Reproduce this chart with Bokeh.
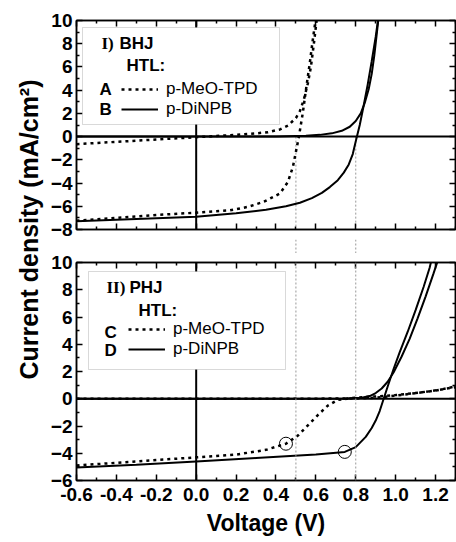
import numpy as np
from bokeh.plotting import figure
from bokeh.models import (FixedTicker, LinearAxis, Span, Label, BoxAnnotation,
                          Legend, LegendItem, Range1d, PrintfTickFormatter,
                          CustomJSTickFormatter)
from bokeh.layouts import column, row
from bokeh.embed import file_html
from bokeh.resources import INLINE

# ---------------- data ----------------
x_major = [-0.6, -0.4, -0.2, 0.0, 0.2, 0.4, 0.6, 0.8, 1.0, 1.2]
x_minor = [-0.5, -0.3, -0.1, 0.1, 0.3, 0.5, 0.7, 0.9, 1.1, 1.3]
y1_major = [-8, -6, -4, -2, 0, 2, 4, 6, 8, 10]
y1_minor = [-7, -5, -3, -1, 1, 3, 5, 7, 9]
y2_major = [-6, -4, -2, 0, 2, 4, 6, 8, 10]
y2_minor = [-5, -3, -1, 1, 3, 5, 7, 9]
voc_marks = [0.5, 0.8]

# Panel I (BHJ)
A_dark_V = [-0.6, -0.4, -0.2, 0.0, 0.1, 0.2, 0.3, 0.36, 0.42, 0.46, 0.5, 0.52, 0.54, 0.56, 0.575, 0.59, 0.605]
A_dark_J = [-0.65, -0.45, -0.25, -0.05, 0.05, 0.15, 0.28, 0.38, 0.62, 0.95, 1.6, 2.2, 3.2, 4.6, 6.0, 8.0, 10.2]
A_light_V = [-0.6, -0.4, -0.2, 0.0, 0.17, 0.26, 0.34, 0.42, 0.46, 0.485, 0.5, 0.515, 0.535, 0.55, 0.57, 0.585, 0.6]
A_light_J = [-7.25, -7.0, -6.75, -6.55, -6.35, -6.05, -5.6, -4.9, -3.9, -2.6, -1.3, 0.0, 2.1, 4.0, 6.4, 8.4, 10.2]
B_dark_V = [-0.6, 0.0, 0.4, 0.55, 0.62, 0.68, 0.73, 0.77, 0.8, 0.825, 0.845, 0.865, 0.88, 0.893, 0.905, 0.914]
B_dark_J = [0.0, 0.0, 0.02, 0.08, 0.15, 0.28, 0.5, 0.85, 1.35, 2.0, 2.9, 4.1, 5.4, 7.0, 8.8, 10.2]
B_light_V = [-0.6, -0.3, 0.0, 0.2, 0.35, 0.45, 0.52, 0.58, 0.63, 0.67, 0.71, 0.74, 0.765, 0.785, 0.8, 0.82, 0.84, 0.86, 0.88, 0.9, 0.912]
B_light_J = [-7.3, -7.1, -6.9, -6.6, -6.3, -6.0, -5.7, -5.3, -4.85, -4.35, -3.75, -3.1, -2.4, -1.5, -0.4, 1.0, 2.7, 4.5, 6.5, 8.6, 10.1]

# Panel II (PHJ)
C_dark_V = [-0.6, 0.0, 0.5, 0.8, 0.88, 0.95, 1.05, 1.15, 1.3]
C_dark_J = [0.0, 0.0, 0.0, 0.02, 0.06, 0.15, 0.32, 0.5, 0.85]
C_light_V = [-0.6, -0.3, 0.0, 0.2, 0.35, 0.45, 0.51, 0.56, 0.61, 0.66, 0.71, 0.8, 0.9, 1.0, 1.1, 1.2, 1.3]
C_light_J = [-4.9, -4.6, -4.3, -4.1, -3.75, -3.3, -2.7, -1.95, -1.2, -0.5, -0.08, 0.08, 0.17, 0.27, 0.42, 0.6, 0.9]
D_dark_V = [-0.6, 0.0, 0.5, 0.75, 0.83, 0.87, 0.9, 0.93, 0.96, 0.99, 1.03, 1.07, 1.11, 1.15, 1.19, 1.215]
D_dark_J = [0.0, 0.0, 0.0, 0.02, 0.08, 0.2, 0.42, 0.75, 1.25, 1.95, 3.1, 4.4, 5.9, 7.5, 9.2, 10.3]
D_light_V = [-0.6, -0.3, 0.0, 0.3, 0.6, 0.745, 0.8, 0.85, 0.88, 0.9, 0.92, 0.94, 0.96, 0.99, 1.02, 1.06, 1.1, 1.14, 1.17, 1.18]
D_light_J = [-5.05, -4.85, -4.6, -4.35, -4.1, -3.9, -3.55, -2.8, -2.15, -1.6, -0.9, 0.0, 0.9, 2.2, 3.4, 4.9, 6.5, 8.2, 9.6, 10.2]
mpp_V = [0.45, 0.745]
mpp_J = [-3.3, -3.9]

FONT = "Liberation Sans"
TICK_FS = "19px"
DOT = "3 4"
FIG_W = 412
LEFT_B = 32
RIGHT_B = 1


def style_axis(ax, ticker, labels=True, formatter=None):
    ax.ticker = ticker
    if formatter is not None:
        ax.formatter = formatter
    ax.axis_line_width = 1.5
    ax.axis_line_color = "black"
    ax.major_tick_in = 6
    ax.major_tick_out = 0
    ax.minor_tick_in = 3
    ax.minor_tick_out = 0
    ax.major_tick_line_width = 1.5
    ax.minor_tick_line_width = 1.5
    ax.major_label_text_font = FONT
    ax.major_label_text_font_style = "bold"
    ax.major_label_text_color = "black"
    if labels:
        ax.major_label_text_font_size = TICK_FS
        ax.major_label_standoff = 4
    else:
        ax.formatter = CustomJSTickFormatter(code="return ''")
        ax.major_label_text_font_size = "1px"
        ax.major_label_standoff = 0


def make_panel(h, ylo, yhi, ymaj, ymin, top_b, bot_b, xr, bottom_labels):
    p = figure(width=FIG_W, height=h, x_range=xr, y_range=Range1d(ylo, yhi),
               output_backend="svg", toolbar_location=None,
               min_border_left=LEFT_B, min_border_right=RIGHT_B,
               min_border_top=top_b, min_border_bottom=bot_b)
    p.grid.visible = False
    p.outline_line_color = "black"
    p.outline_line_width = 1.5
    bottom_axis = p.below[0]
    style_axis(bottom_axis, FixedTicker(ticks=x_major, minor_ticks=x_minor),
               labels=bottom_labels, formatter=PrintfTickFormatter(format="%.1f"))
    style_axis(p.left[0], FixedTicker(ticks=ymaj, minor_ticks=ymin), labels=True)
    if bottom_labels:
        bottom_axis.major_label_standoff = 7
    ta = LinearAxis()
    style_axis(ta, FixedTicker(ticks=x_major, minor_ticks=x_minor), labels=False)
    p.add_layout(ta, "above")
    ra = LinearAxis()
    style_axis(ra, FixedTicker(ticks=ymaj, minor_ticks=ymin), labels=False)
    p.add_layout(ra, "right")
    p.add_layout(Span(location=0, dimension="width", line_color="black", line_width=2))
    p.add_layout(Span(location=0, dimension="height", line_color="black", line_width=2))
    return p, bottom_axis


def lab(p, x, y, t, bold=True, font=FONT, size="17px"):
    p.add_layout(Label(x=x, y=y, x_units="screen", y_units="screen", text=t,
                       text_font=font, text_font_style="bold" if bold else "normal",
                       text_font_size=size, text_baseline="middle", text_align="left",
                       text_color="black"))


def make_legend(items, loc, h):
    return Legend(items=items, location=loc, glyph_width=37, glyph_height=h,
                  label_height=h, label_standoff=8, spacing=0, padding=0, margin=0,
                  background_fill_alpha=0, border_line_color=None,
                  label_text_font=FONT, label_text_font_size="17px",
                  label_text_color="black")


xr = Range1d(-0.6, 1.3)

# ---------------- top panel ----------------
H1, T1, B1 = 209, 20, 10
p1, _ = make_panel(T1 + H1 + B1, -8, 10, y1_major, y1_minor, T1, B1, xr, False)
p1.segment(x0=voc_marks, y0=[0, 0], x1=voc_marks, y1=[p1.y_range.start] * 2,
           line_color="#999999", line_width=1, line_dash="2 2")
rA_l = p1.line(A_light_V, A_light_J, line_color="black", line_width=2.5, line_dash=DOT)
rA_d = p1.line(A_dark_V, A_dark_J, line_color="black", line_width=2.5, line_dash=DOT)
rB_l = p1.line(B_light_V, B_light_J, line_color="black", line_width=2)
rB_d = p1.line(B_dark_V, B_dark_J, line_color="black", line_width=2)

p1.add_layout(BoxAnnotation(left=6, right=203, top=H1 - 7, bottom=H1 - 104,
                            left_units="screen", right_units="screen",
                            top_units="screen", bottom_units="screen",
                            fill_color="white", fill_alpha=1.0,
                            line_color="#808080", line_width=1))
p1.add_layout(make_legend([LegendItem(label="p-MeO-TPD", renderers=[rA_d]),
                           LegendItem(label="p-DiNPB", renderers=[rB_d])],
                          (45, H1 - 99), 20))
lab(p1, 25, H1 - 23, "I)", font="Liberation Serif")
lab(p1, 43, H1 - 23, "BHJ")
lab(p1, 50, H1 - 45, "HTL:")
lab(p1, 23, H1 - 69, "A")
lab(p1, 23, H1 - 89, "B")

# ---------------- gap ----------------
GAP_H = 14
gap = figure(width=FIG_W, height=GAP_H, x_range=xr, y_range=Range1d(0, 1),
             output_backend="svg", toolbar_location=None,
             x_axis_type=None, y_axis_type=None,
             min_border_left=LEFT_B, min_border_right=RIGHT_B,
             min_border_top=0, min_border_bottom=0)
gap.grid.visible = False
gap.outline_line_color = None
for v in voc_marks:
    gap.add_layout(Span(location=v, dimension="height", line_color="#999999",
                        line_width=1, line_dash="2 2"))

# ---------------- bottom panel ----------------
H2, T2, B2 = 218, 9, 61
p2, xax2 = make_panel(T2 + H2 + B2, -6, 10, y2_major, y2_minor, T2, B2, xr, True)
xax2.axis_label = "Voltage (V)"
xax2.axis_label_text_font = FONT
xax2.axis_label_text_font_style = "bold"
xax2.axis_label_text_font_size = "23px"
xax2.axis_label_text_color = "black"
xax2.axis_label_standoff = 6
for v in voc_marks:
    p2.add_layout(Span(location=v, dimension="height", line_color="#999999",
                       line_width=1, line_dash="2 2"))
rC_l = p2.line(C_light_V, C_light_J, line_color="black", line_width=2.5, line_dash=DOT)
rC_d = p2.line(C_dark_V, C_dark_J, line_color="black", line_width=2.5, line_dash=DOT)
rD_l = p2.line(D_light_V, D_light_J, line_color="black", line_width=2)
rD_d = p2.line(D_dark_V, D_dark_J, line_color="black", line_width=2)
p2.scatter(mpp_V, mpp_J, marker="circle", size=13, fill_color=None,
           line_color="black", line_width=1)

p2.add_layout(BoxAnnotation(left=12, right=209, top=H2 - 9, bottom=H2 - 107,
                            left_units="screen", right_units="screen",
                            top_units="screen", bottom_units="screen",
                            fill_color="white", fill_alpha=1.0,
                            line_color="#808080", line_width=1))
p2.add_layout(make_legend([LegendItem(label="p-MeO-TPD", renderers=[rC_d]),
                           LegendItem(label="p-DiNPB", renderers=[rD_d])],
                          (52, H2 - 97), 18))
lab(p2, 30, H2 - 25, "II)", font="Liberation Serif")
lab(p2, 53, H2 - 25, "PHJ")
lab(p2, 62, H2 - 48, "HTL:")
lab(p2, 28, H2 - 70, "C")
lab(p2, 28, H2 - 88, "D")

# ---------------- y label ----------------
TOTAL_H = (T1 + H1 + B1) + GAP_H + (T2 + H2 + B2)
lf = figure(width=44, height=TOTAL_H, x_range=Range1d(0, 1), y_range=Range1d(0, 1),
            output_backend="svg", toolbar_location=None,
            x_axis_type=None, y_axis_type=None, min_border=0)
lf.grid.visible = False
lf.outline_line_color = None
lf.add_layout(Label(x=28, y=TOTAL_H - 229, x_units="screen", y_units="screen",
                    text="Current density (mA/cm²)", angle=90, angle_units="deg",
                    text_font=FONT, text_font_style="bold", text_font_size="25px",
                    text_align="center", text_baseline="middle", text_color="black"))

layout = row(lf, column(p1, gap, p2, spacing=0), spacing=0)
open("out.html", "w").write(file_html(layout, INLINE))
